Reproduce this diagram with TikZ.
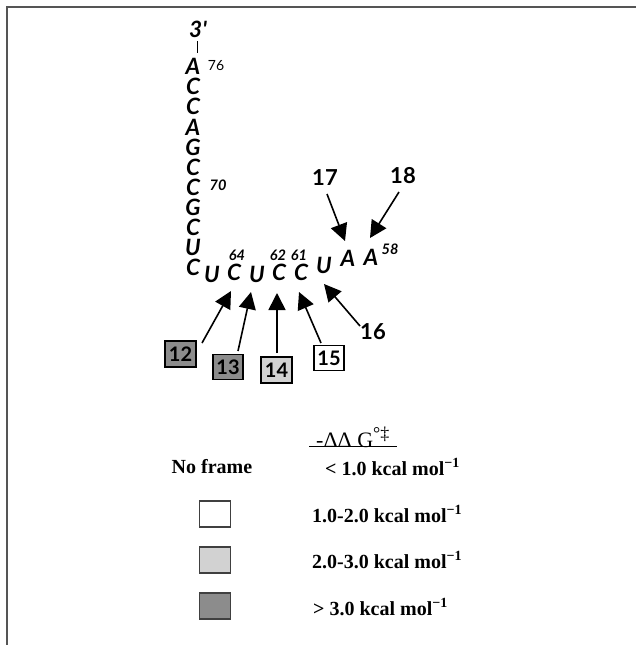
\documentclass[tikz,border=0pt]{standalone}
\usepackage{fontspec}
\setmainfont{Liberation Serif}
\newfontfamily\ntfont{Lato}
\usetikzlibrary{arrows.meta}
\definecolor{framegray}{HTML}{555555}
\definecolor{darkfill}{HTML}{8C8C8C}
\definecolor{lightfill}{HTML}{D2D2D2}
\tikzset{
  nt/.style={inner sep=0pt, text height=15pt, text depth=0pt,
    font=\ntfont\fontsize{22.5}{22.5}\selectfont\bfseries\itshape},
  ntnum/.style={inner sep=0pt, text height=10pt, text depth=0pt,
    font=\ntfont\fontsize{14.5}{14.5}\selectfont\bfseries\itshape},
  poslabel/.style={inner sep=0pt, font=\ntfont\fontsize{22}{22}\selectfont\bfseries},
  posbox/.style={draw=black, line width=1.3pt, minimum width=30pt, minimum height=25pt,
    inner sep=0pt, font=\ntfont\fontsize{20}{20}\selectfont\bfseries},
  keybox/.style={draw=black!75, line width=1.3pt, minimum width=31pt, minimum height=26pt, inner sep=0pt},
  keytext/.style={inner sep=0pt, anchor=west, font=\fontsize{20}{20}\selectfont\bfseries},
  pointer/.style={line width=1.6pt, -{Triangle[length=17pt,width=17pt]}},
}
\begin{document}
\begin{tikzpicture}[x=1pt,y=-1pt]
\useasboundingbox (0,0) rectangle (636,645);
% page frame (top and left rules)
\draw[framegray, line width=2pt] (7,645) -- (7,7) -- (636,7);

% 3' end and acceptor stem
\node[nt] (end3) at (198,30) {3'};
\draw[line width=1pt] (197,41) -- (197,53);
\node[nt] (a76) at (193,67) {A};
\node[nt] (c75) at (193,87) {C};
\node[nt] (c74) at (193,107) {C};
\node[nt] (a73) at (193,128) {A};
\node[nt] (g72) at (193,148) {G};
\node[nt] (c71) at (193,168) {C};
\node[nt] (c70) at (193,188) {C};
\node[nt] (g69) at (193,208) {G};
\node[nt] (c68) at (193,228) {C};
\node[nt] (u67) at (193,248) {U};
\node[nt] (c66) at (193,268) {C};
% T loop
\node[nt] (u65) at (212,275) {U};
\node[nt] (c64) at (234,273) {C};
\node[nt] (u63) at (257,275) {U};
\node[nt] (c62) at (279,273) {C};
\node[nt] (c61) at (301,273) {C};
\node[nt] (u60) at (324,266) {U};
\node[nt] (a59) at (348,259) {A};
\node[nt] (a58) at (371,258) {A};
% position numbers
\node[inner sep=0pt, text height=10pt, text depth=0pt, font=\ntfont\fontsize{14}{14}\selectfont] (n76) at (216,65) {76};
\node[ntnum] (n70) at (218,185) {70};
\node[ntnum] (n64) at (237,255) {64};
\node[ntnum] (n62) at (278,255) {62};
\node[ntnum] (n61) at (299,255) {61};
\node[ntnum] (n58) at (390,249) {58};

% probe positions
\node[poslabel] (p17) at (325,178) {17};
\node[poslabel] (p18) at (403,176) {18};
\node[poslabel] (p16) at (373,332) {16};
\node[posbox, fill=darkfill, minimum width=31pt, minimum height=26pt] (p12) at (180.5,354) {12};
\node[posbox, fill=darkfill] (p13) at (228,367) {13};
\node[posbox, fill=lightfill, minimum width=31pt, minimum height=26pt] (p14) at (276.5,370) {14};
\node[posbox, fill=white] (p15) at (329,358) {15};

% arrow ends
\coordinate (t12) at (202,343);  \coordinate (h12) at (231,291);
\coordinate (t13) at (238,351);  \coordinate (h13) at (251,292);
\coordinate (t14) at (277,353);  \coordinate (h14) at (277,293);
\coordinate (t15) at (321,343);  \coordinate (h15) at (299,292);
\coordinate (t16) at (360,326);  \coordinate (h16) at (324,284);
\coordinate (t17) at (327,194);  \coordinate (h17) at (345,241);
\coordinate (t18) at (399,192);  \coordinate (h18) at (370,238);
\draw[pointer] (t12) -- (h12);
\draw[pointer] (t13) -- (h13);
\draw[pointer] (t14) -- (h14);
\draw[pointer] (t15) -- (h15);
\draw[pointer] (t16) -- (h16);
\draw[pointer] (t17) -- (h17);
\draw[pointer] (t18) -- (h18);

% legend
\node[inner sep=0pt, anchor=west, font=\fontsize{22}{22}\selectfont] (head) at (316,437)
  {-ΔΔ G\raisebox{8pt}{\fontsize{18}{18}\selectfont°‡}};
\draw[line width=1pt] (309,446) -- (397,446);
\node[inner sep=0pt, font=\fontsize{20}{20}\selectfont\bfseries] (noframe) at (212,467) {No frame};
\node[keybox, fill=white] (k1) at (215,514) {};
\node[keybox, fill=lightfill] (k2) at (215,560) {};
\node[keybox, fill=darkfill] (k3) at (215,606) {};
\node[keytext] (r0) at (325,467) {< 1.0 kcal mol\textsuperscript{−1}};
\node[keytext] (r1) at (312,514) {1.0-2.0 kcal mol\textsuperscript{−1}};
\node[keytext] (r2) at (312,560) {2.0-3.0 kcal mol\textsuperscript{−1}};
\node[keytext] (r3) at (313,607) {> 3.0 kcal mol\textsuperscript{−1}};
\end{tikzpicture}
\end{document}
